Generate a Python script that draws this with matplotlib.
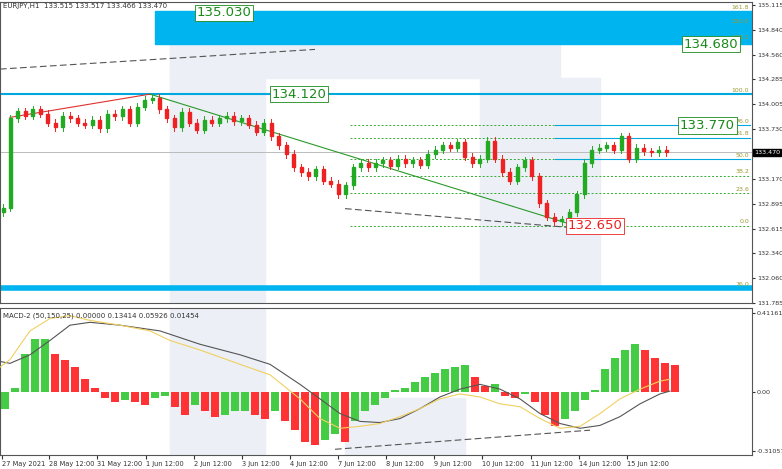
import matplotlib
matplotlib.use("Agg")
import matplotlib.pyplot as plt
from matplotlib.patches import Rectangle
import numpy as np

closes = [132.85,133.85,133.93,133.88,133.95,133.90,133.80,133.75,133.88,133.85,133.80,133.78,133.83,133.74,133.90,133.87,133.95,133.80,133.98,134.06,134.08,133.95,133.85,133.75,133.92,133.80,133.72,133.83,133.80,133.85,133.88,133.82,133.85,133.78,133.70,133.80,133.65,133.55,133.45,133.30,133.25,133.20,133.28,133.15,133.12,133.00,133.10,133.30,133.35,133.30,133.35,133.38,133.32,133.40,133.35,133.38,133.33,133.45,133.50,133.55,133.52,133.58,133.42,133.35,133.40,133.60,133.40,133.25,133.15,133.30,133.38,133.20,132.90,132.75,132.70,132.72,132.80,133.00,133.35,133.50,133.52,133.55,133.50,133.65,133.40,133.52,133.48,133.47,133.50,133.47]
first_open = 132.80
hist = [-0.09,0.02,0.2,0.28,0.28,0.2,0.17,0.13,0.07,0.02,-0.03,-0.05,-0.04,-0.05,-0.07,-0.03,-0.02,-0.08,-0.12,-0.07,-0.1,-0.13,-0.12,-0.1,-0.1,-0.12,-0.14,-0.1,-0.15,-0.2,-0.26,-0.28,-0.25,-0.22,-0.26,-0.15,-0.1,-0.07,-0.03,0.01,0.02,0.05,0.08,0.1,0.12,0.13,0.14,0.08,0.03,0.04,-0.02,-0.03,-0.01,-0.05,-0.12,-0.18,-0.14,-0.1,-0.04,0.01,0.12,0.18,0.22,0.25,0.22,0.18,0.15,0.14]
line_x = [0,10,30,50,70,90,120,160,200,240,270,300,320,340,360,380,400,420,440,460,480,500,520,540,560,580,600,620,640,660,670]
macd_gray = [0.16,0.15,0.195,0.27,0.35,0.365,0.35,0.32,0.25,0.195,0.145,0.04,-0.036,-0.113,-0.154,-0.16,-0.139,-0.087,-0.026,0.015,0.04,0.015,-0.036,-0.113,-0.165,-0.19,-0.175,-0.129,-0.062,-0.01,0.005]
yel_x = [0,10,30,50,70,90,120,150,170,200,240,270,300,320,340,360,380,400,420,440,460,480,500,520,540,560,580,600,620,640,660,670]
macd_yel = [0.13,0.17,0.32,0.385,0.4,0.375,0.35,0.32,0.27,0.22,0.145,0.09,-0.036,-0.139,-0.19,-0.18,-0.165,-0.129,-0.087,-0.036,-0.01,-0.026,-0.062,-0.077,-0.139,-0.19,-0.18,-0.113,-0.036,0.015,0.057,0.067]
price_ticks = [135.115,134.840,134.560,134.285,134.005,133.730,133.170,132.895,132.615,132.340,132.060,131.785]
macd_ticks = [0.41161,0.00,-0.31057]
date_labels = ["27 May 2021","28 May 12:00","31 May 12:00","1 Jun 12:00","2 Jun 12:00","3 Jun 12:00","4 Jun 12:00","7 Jun 12:00","8 Jun 12:00","9 Jun 12:00","10 Jun 12:00","11 Jun 12:00","14 Jun 12:00","15 Jun 12:00"]
date_pos = [2,49,97,146,194,242,290,338,386,434,482,531,579,627]
fib_levels = [(133.77,"76.0"),(133.63,"61.8"),(133.39,"50.0"),(133.21,"38.2"),(133.01,"23.6"),(132.65,"0.0")]

W, H = 782, 469
fig = plt.figure(figsize=(W/100, H/100), dpi=100)
fig.patch.set_facecolor("white")
axw = 752/W
ax = fig.add_axes([0, 1-303/H, axw, 301/H])
ax2 = fig.add_axes([0, 1-455/H, axw, 147/H])
for a in (ax, ax2):
    a.set_xlim(0, 752)
    a.yaxis.tick_right()
    a.tick_params(axis="y", labelsize=4.6, length=2.5, pad=1, colors="#333")
    for s in a.spines.values():
        s.set_color("#555"); s.set_linewidth(0.8)
    a.set_xticks([])
ax.set_ylim(131.785, 135.15)
ax.set_yticks(price_ticks)
ax2.set_ylim(-0.33, 0.44)
ax2.set_yticks(macd_ticks)
ax2.set_yticklabels(["0.41161","0.00","-0.31057"])
ax2.set_xticks(date_pos)
ax2.set_xticklabels(date_labels, fontsize=4.8, ha="left")
ax2.tick_params(axis="x", length=3, pad=1, colors="#333")

# watermark
wm = "#eceff5"
for a, (x0, y0, w, h) in [(ax, (170, 131.785, 95, 3.0)), (ax2, (170, -0.33, 95, 0.77))]:
    a.add_patch(Rectangle((x0, y0), w, h, color=wm, zorder=0))
ax.add_patch(Rectangle((170, 134.3), 390, 0.6, color=wm, zorder=0))
ax.add_patch(Rectangle((480, 132.0), 120, 2.3, color=wm, zorder=0))
ax2.add_patch(Rectangle((345, -0.33), 120, 0.3, color=wm, zorder=0))

# levels
ax.add_patch(Rectangle((155, 134.68), 600, 0.37, color="#00b4f0", zorder=1))
ax.axhline(134.12, color="#00a8e0", lw=1.5, zorder=2)
ax.axhline(131.95, color="#00b4f0", lw=4, zorder=2)
ax.axhline(133.47, color="#bbbbbb", lw=0.7, zorder=1)
for v, t in fib_levels:
    ax.plot([350, 750], [v, v], color="#33aa33", lw=0.7, ls=(0, (2, 2)), zorder=2)
    ax.text(749, v+0.02, t, fontsize=4.5, color="#999933", ha="right", va="bottom")
for v in [133.77, 133.63, 133.39]:
    ax.plot([555, 750], [v, v], color="#00a8e0", lw=0.8, zorder=2)
for v, t in [(134.12, "100.0"), (131.95, "76.0"), (135.05, "161.8"), (134.89, "150.0"), (134.72, "138.2")]:
    ax.text(749, v+0.01, t, fontsize=4.5, color="#999933", ha="right", va="bottom")

# trend lines
ax.plot([10, 150], [133.86, 134.12], color="#e03030", lw=0.8, zorder=3)
ax.plot([150, 575], [134.12, 132.65], color="#2a9a2a", lw=0.8, zorder=3)
ax.plot([0, 315], [134.4, 134.62], color="#555", lw=0.8, ls=(0, (6, 3)), zorder=3)
ax.plot([345, 590], [132.84, 132.61], color="#555", lw=0.8, ls=(0, (6, 3)), zorder=3)

# candles
xs = 3 + 7.45*np.arange(len(closes))
opens = [first_open] + closes[:-1]
for x, o, c in zip(xs, opens, closes):
    col = "#22aa22" if c >= o else "#ee2222"
    hi, lo = max(o, c)+0.04, min(o, c)-0.04
    ax.plot([x, x], [lo, hi], color=col, lw=0.7, zorder=4)
    ax.add_patch(Rectangle((x-1.5, min(o, c)), 3, max(abs(c-o), 0.008), color=col, zorder=5))

def lab(x, y, t, col, fs=9.5):
    ax.text(x, y, t, fontsize=fs, color=col, ha="left", va="center", zorder=6,
            bbox=dict(boxstyle="square,pad=0.12", fc="white", ec=col, lw=0.6))
lab(197, 135.03, "135.030", "#1a8a1a")
lab(684, 134.68, "134.680", "#1a8a1a")
lab(272, 134.12, "134.120", "#1a8a1a")
lab(680, 133.77, "133.770", "#1a8a1a")
lab(568, 132.65, "132.650", "#ee2222")
ax.text(754, 133.47, "133.470", fontsize=4.6, color="white", va="center", ha="left",
        bbox=dict(boxstyle="square,pad=0.15", fc="black", ec="black"), clip_on=False, zorder=7)
ax.text(3, 135.1, "EURJPY,H1  133.515 133.517 133.466 133.470", fontsize=5, color="#333", va="center")

# MACD
hx = 5 + 10*np.arange(len(hist))
prev = [hist[0]] + hist[:-1]
for x, h, p in zip(hx, hist, prev):
    col = "#44cc44" if h >= p else "#ff3333"
    ax2.bar(x, h, width=8, color=col, zorder=2)
ax2.plot(line_x, macd_gray, color="#555", lw=0.8, zorder=3)
ax2.plot(yel_x, macd_yel, color="#f0d060", lw=0.8, zorder=3)
ax2.plot([335, 590], [-0.3, -0.2], color="#555", lw=0.8, ls=(0, (6, 3)), zorder=3)
ax2.text(3, 0.40, "MACD-2 (50,150,25) 0.00000 0.13414 0.05926 0.01454", fontsize=5, color="#333", va="center")

fig.savefig("out.png", dpi=100)
